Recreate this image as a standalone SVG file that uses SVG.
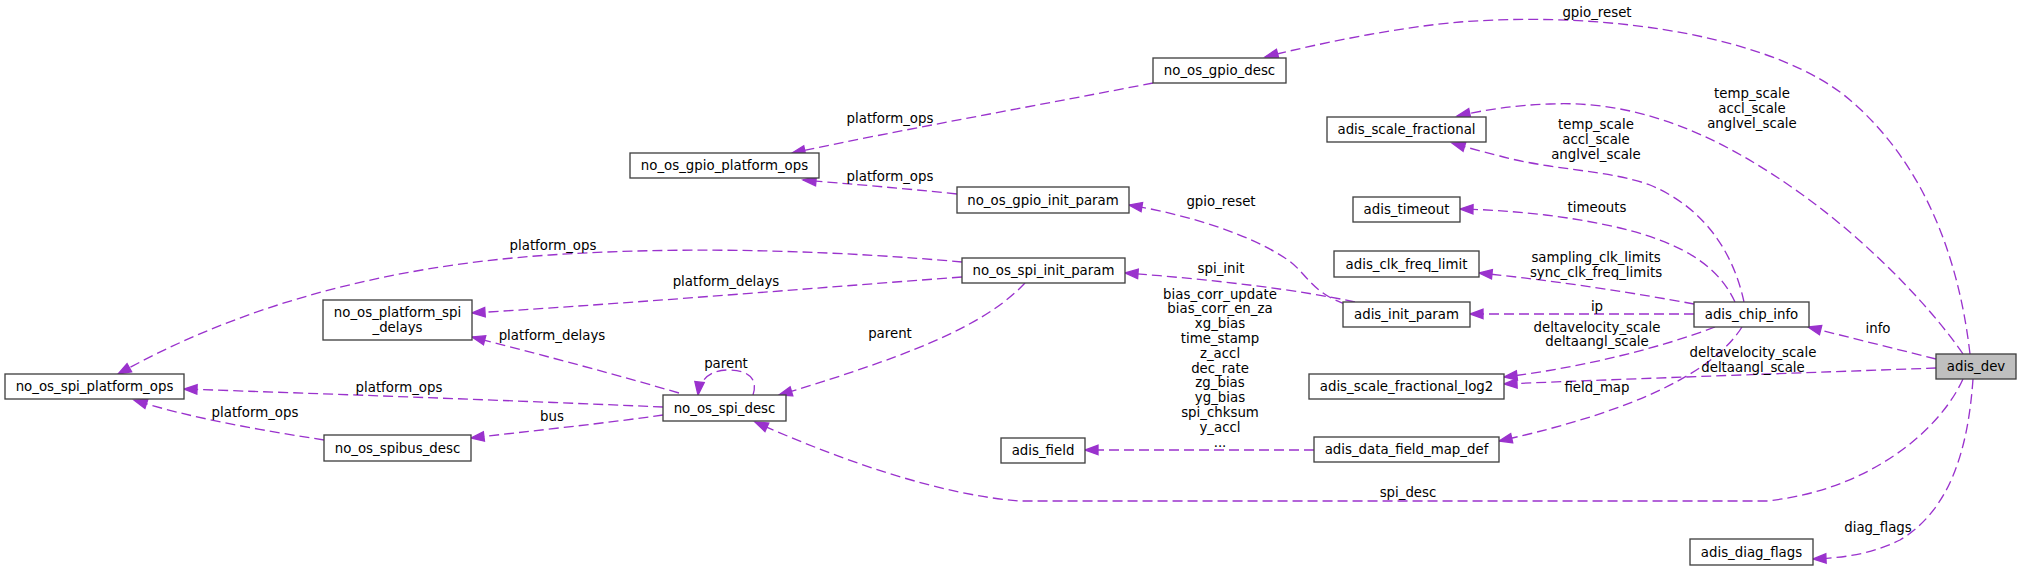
<svg xmlns="http://www.w3.org/2000/svg" width="2021" height="571" viewBox="0 0 2021 571">
<style>
.n rect{fill:#fff;stroke:#404040;stroke-width:1.33}
#adis_dev rect{fill:#bfbfbf}
.e path{fill:none;stroke:#9a32cd;stroke-width:1.33;stroke-dasharray:10,5;marker-end:url(#ah)}
text{font-family:"DejaVu Sans",sans-serif;font-size:13.33px;fill:#000;text-anchor:middle}
</style>
<defs>
<marker id="ah" markerUnits="userSpaceOnUse" markerWidth="16" markerHeight="12" refX="13" refY="4.7" orient="auto" overflow="visible">
<polygon points="0,0 13,4.7 0,9.4" fill="#9a32cd" stroke="#9a32cd" stroke-width="1.33"/>
</marker>
</defs>
<rect width="2021" height="571" fill="#fff"/>
<g id="edges" class="e">
<path d="M1970,354 C1958,250 1920,160 1850,100 C1780,40 1620,10 1460,22 C1400,27 1320,43 1265,57"/>
<path d="M1963,354 C1940,320 1880,250 1800,193 C1720,136 1640,100 1550,104 C1515,105 1485,110 1457,116"/>
<path d="M1936,359 L1808,327"/>
<path d="M1936,368 C1800,373 1650,378 1504,384"/>
<path d="M1963,379 C1940,430 1870,490 1767,501 L1020,501 C940,495 840,460 755,422"/>
<path d="M1973,379 C1968,450 1950,510 1900,540 C1870,555 1840,558 1813,559"/>
<path d="M1744,302 C1735,260 1710,210 1650,185 C1610,170 1550,170 1500,156 C1480,151 1465,147 1452,143"/>
<path d="M1735,302 C1720,270 1690,245 1620,228 C1570,216 1510,210 1460,209"/>
<path d="M1694,304 C1640,294 1560,281 1479,273"/>
<path d="M1694,314 L1470,314"/>
<path d="M1715,327 C1660,348 1580,368 1504,377"/>
<path d="M1742,327 C1715,370 1640,410 1499,441"/>
<path d="M1345,304 C1310,292 1305,270 1285,258 C1250,235 1190,215 1129,205"/>
<path d="M1355,302 C1300,290 1210,279 1125,273"/>
<path d="M1314,450 L1085,450"/>
<path d="M1153,83 C1050,103 900,130 792,153"/>
<path d="M957,194 C900,188 850,184 803,180"/>
<path d="M962,262 C850,252 700,245 550,255 C400,265 250,300 118,374"/>
<path d="M962,277 C800,289 650,302 472,313"/>
<path d="M1025,283 C990,320 930,350 779,395"/>
<path d="M679,393 C600,370 530,352 472,337"/>
<path d="M663,407 C500,400 330,394 184,389"/>
<path d="M663,415 C600,424 530,431 471,438"/>
<path d="M324,440 C260,430 190,418 134,400"/>
<path d="M753,395 C758,380 750,370 728,370 C712,370 700,378 698,395"/>
</g>
<g id="edge-labels">
<text x="1597" y="16.5">gpio_reset</text>
<text x="1752" y="97.5">temp_scale<tspan x="1752" dy="15">accl_scale</tspan><tspan x="1752" dy="15">anglvel_scale</tspan></text>
<text x="1596" y="128.5">temp_scale<tspan x="1596" dy="15">accl_scale</tspan><tspan x="1596" dy="15">anglvel_scale</tspan></text>
<text x="1597" y="211.5">timeouts</text>
<text x="1596" y="261.5">sampling_clk_limits<tspan x="1596" dy="15">sync_clk_freq_limits</tspan></text>
<text x="1597" y="311">ip</text>
<text x="1597" y="331.5">deltavelocity_scale<tspan x="1597" dy="14.5">deltaangl_scale</tspan></text>
<text x="1878" y="332.5">info</text>
<text x="1753" y="356.5">deltavelocity_scale<tspan x="1753" dy="15">deltaangl_scale</tspan></text>
<text x="1597" y="391.5">field_map</text>
<text x="1408" y="496.5">spi_desc</text>
<text x="1878" y="531.5">diag_flags</text>
<text x="1221" y="205.5">gpio_reset</text>
<text x="1221" y="272.5">spi_init</text>
<text x="1220" y="298.5">bias_corr_update<tspan x="1220" dy="14.8">bias_corr_en_za</tspan><tspan x="1220" dy="14.8">xg_bias</tspan><tspan x="1220" dy="14.8">time_stamp</tspan><tspan x="1220" dy="14.8">z_accl</tspan><tspan x="1220" dy="14.8">dec_rate</tspan><tspan x="1220" dy="14.8">zg_bias</tspan><tspan x="1220" dy="14.8">yg_bias</tspan><tspan x="1220" dy="14.8">spi_chksum</tspan><tspan x="1220" dy="14.8">y_accl</tspan><tspan x="1220" dy="14.8">...</tspan></text>
<text x="890" y="122.5">platform_ops</text>
<text x="890" y="180.5">platform_ops</text>
<text x="553" y="249.5">platform_ops</text>
<text x="726" y="285.5">platform_delays</text>
<text x="890" y="337.5">parent</text>
<text x="552" y="339.5">platform_delays</text>
<text x="726" y="367.5">parent</text>
<text x="399" y="391.5">platform_ops</text>
<text x="255" y="416.5">platform_ops</text>
<text x="552" y="420.5">bus</text>
</g>
<g id="no_os_gpio_desc" class="n"><rect x="1153" y="58" width="133" height="25"/><text x="1219.5" y="75">no_os_gpio_desc</text></g>
<g id="no_os_gpio_platform_ops" class="n"><rect x="630" y="153" width="189" height="25"/><text x="724.5" y="170">no_os_gpio_platform_ops</text></g>
<g id="adis_scale_fractional" class="n"><rect x="1327" y="117" width="159" height="25"/><text x="1406.5" y="134">adis_scale_fractional</text></g>
<g id="no_os_gpio_init_param" class="n"><rect x="957" y="187" width="172" height="26"/><text x="1043" y="204.5">no_os_gpio_init_param</text></g>
<g id="adis_timeout" class="n"><rect x="1353" y="197" width="107" height="25"/><text x="1406.5" y="214">adis_timeout</text></g>
<g id="adis_clk_freq_limit" class="n"><rect x="1334" y="251" width="145" height="26"/><text x="1406.5" y="268.5">adis_clk_freq_limit</text></g>
<g id="no_os_spi_init_param" class="n"><rect x="962" y="258" width="163" height="25"/><text x="1043.5" y="275">no_os_spi_init_param</text></g>
<g id="no_os_platform_spi_delays" class="n"><rect x="323" y="300" width="149" height="40"/><text x="397.5" y="316.5">no_os_platform_spi<tspan x="397.5" dy="15">_delays</tspan></text></g>
<g id="adis_init_param" class="n"><rect x="1343" y="302" width="127" height="25"/><text x="1406.5" y="319">adis_init_param</text></g>
<g id="adis_chip_info" class="n"><rect x="1694" y="302" width="115" height="25"/><text x="1751.5" y="319">adis_chip_info</text></g>
<g id="adis_dev" class="n"><rect x="1936" y="354" width="80" height="25"/><text x="1976" y="371">adis_dev</text></g>
<g id="no_os_spi_platform_ops" class="n"><rect x="5" y="374" width="179" height="25"/><text x="94.5" y="391">no_os_spi_platform_ops</text></g>
<g id="adis_scale_fractional_log2" class="n"><rect x="1309" y="374" width="195" height="25"/><text x="1406.5" y="391">adis_scale_fractional_log2</text></g>
<g id="no_os_spi_desc" class="n"><rect x="663" y="395" width="123" height="26"/><text x="724.5" y="412.5">no_os_spi_desc</text></g>
<g id="no_os_spibus_desc" class="n"><rect x="324" y="435" width="147" height="26"/><text x="397.5" y="452.5">no_os_spibus_desc</text></g>
<g id="adis_field" class="n"><rect x="1001" y="438" width="84" height="25"/><text x="1043" y="455">adis_field</text></g>
<g id="adis_data_field_map_def" class="n"><rect x="1314" y="437" width="185" height="25"/><text x="1406.5" y="454">adis_data_field_map_def</text></g>
<g id="adis_diag_flags" class="n"><rect x="1690" y="539" width="123" height="26"/><text x="1751.5" y="556.5">adis_diag_flags</text></g>
</svg>
